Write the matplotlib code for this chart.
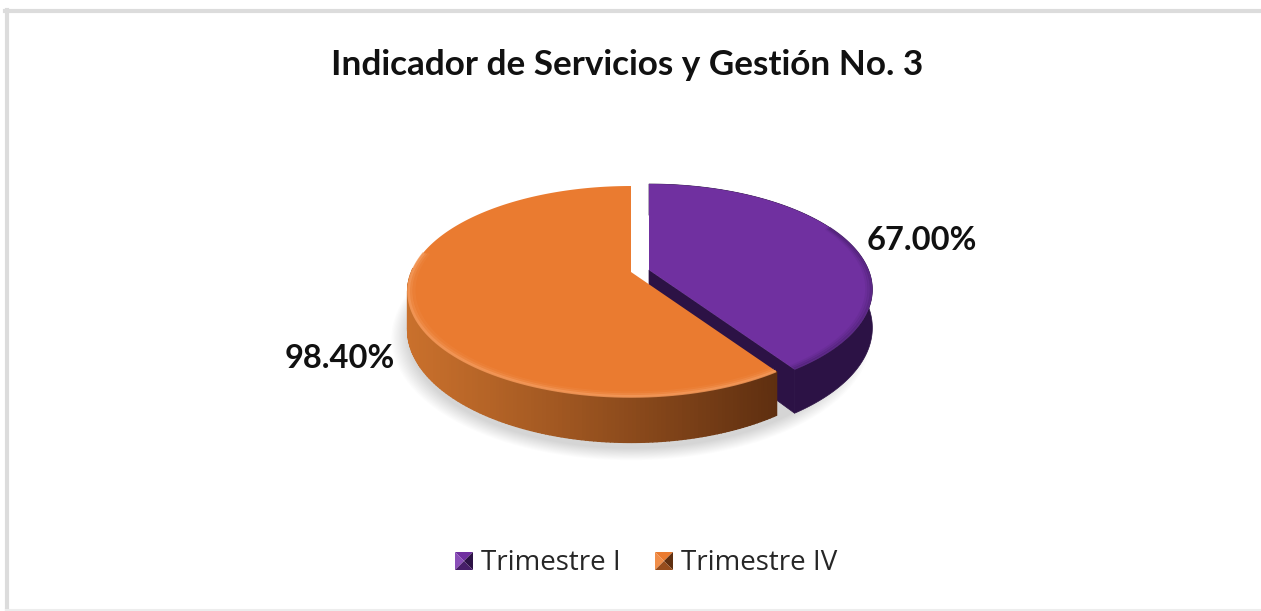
import numpy as np
import matplotlib
matplotlib.use('Agg')
import matplotlib.pyplot as plt
from matplotlib.colors import to_rgb

title = 'Indicador de Servicios y Gestión No. 3'
categories = ['Trimestre I', 'Trimestre IV']
values = [67.00, 98.40]
top_colors = ['#7030A0', '#EA7B30']

# fake 3d pie, unit disc seen in perspective
cx, cy = 631, 272
B, A, k = 219.5, 101.9, 0.185
D = 37
shift_x, shift_y = 18, -2  # exploded slice


def proj(u, v, down=0):
    w = 1 + k * v
    return cx + B * u / w, cy - A * v / w + down / w


def mix(a, b, t):
    a, b = np.array(to_rgb(a)), np.array(to_rgb(b))
    return tuple(a + (b - a) * t)


fig = plt.figure(figsize=(12.61, 6.11), dpi=100)
ax = fig.add_axes([0, 0, 1, 1])
ax.set_xlim(0, 1261)
ax.set_ylim(611, 0)
ax.axis('off')
ax.plot([6.5, 6.5], [10, 611], color='#DCDCDC', lw=3)
ax.plot([5, 1261], [10.5, 10.5], color='#DCDCDC', lw=3)
ax.plot([6, 1261], [610, 610], color='#EDEDED', lw=1.5)

total = sum(values)
sweep = values[0] / total * 2 * np.pi
t1 = np.linspace(0, sweep, 160)
t2 = np.linspace(sweep, 2 * np.pi, 240)

# soft shadow below the pie, near side only
tt = np.linspace(np.pi * 0.42, np.pi * 1.58, 200)
for g in np.linspace(1.07, 1.0, 14):
    sx, sy = proj(np.sin(tt) * g, np.cos(tt) * g, D + 5)
    ax.fill(sx, sy, color='black', alpha=0.011, lw=0)

# Trimestre I: wall, cut face, top
u1, v1 = np.sin(t1), np.cos(t1)
x, y = proj(u1, v1)
xb, yb = proj(u1, v1, D)
x, xb = x + shift_x, xb + shift_x
y, yb = y + shift_y, yb + shift_y
ax.fill(np.r_[x, xb[::-1]], np.r_[y, yb[::-1]], color='#2C1245', lw=0.5)
tipx, tipy = proj(0, 0)
tipbx, tipby = proj(0, 0, D)
tipx, tipbx = tipx + shift_x, tipbx + shift_x
tipy, tipby = tipy + shift_y, tipby + shift_y
ax.fill([tipx, x[-1], xb[-1], tipbx], [tipy, y[-1], yb[-1], tipby], color='#2C1245', lw=0.5)
ax.fill(np.r_[tipx, x], np.r_[tipy, y], color=top_colors[0], lw=0)
# darker soft edge on the near arc
near = v1 < 0.45
for g, a in zip([0.995, 0.985, 0.975], [0.5, 0.3, 0.15]):
    px, py = proj(u1[near] * g, v1[near] * g)
    ax.plot(px + shift_x, py + shift_y, color='#4A2070', lw=2, alpha=a, solid_capstyle='butt')

# Trimestre IV: wall with shading from left to right
u2, v2 = np.sin(t2), np.cos(t2)
vis = np.where(v2 < 0.05)[0]
x, y = proj(u2, v2)
xb, yb = proj(u2, v2, D)
xmin, xmax = x.min(), x[0]
for i in vis[:-1]:
    if x[i] > xmax + 1:
        continue
    f = np.clip((x[i] - xmin) / (xmax - xmin), 0, 1)
    col = mix('#C9702C', '#5F2F10', f ** 1.1)
    ax.fill([x[i], x[i + 1], xb[i + 1], xb[i]], [y[i], y[i + 1], yb[i + 1], yb[i]], color=col, lw=1, ec=col)
ax.fill(np.r_[cx, x], np.r_[cy, y], color=top_colors[1], lw=0)
# light bevel on the near arc
near = v2 < 0.2
for g, a in zip([0.996, 0.985, 0.972], [0.8, 0.4, 0.15]):
    px, py = proj(u2[near] * g, v2[near] * g)
    ax.plot(px, py, color='#F39A5C', lw=2, alpha=a, solid_capstyle='butt')

ax.text(627, 65, title, ha='center', va='center', fontsize=25.3, fontweight='bold', family='Lato', color='#111111')

# data labels
ax.text(922, 240, f'{values[0]:.2f}%', ha='center', va='center', fontsize=23.5, fontweight='bold', family='Lato', color='#111111')
ax.text(339.5, 358, f'{values[1]:.2f}%', ha='center', va='center', fontsize=23.5, fontweight='bold', family='Lato', color='#111111')

# legend, small pyramid keys
keys = [(455, 481), (655, 681)]
darks = ['#2C1245', '#5F2F10']
lights = ['#8A4FB8', '#F08E4A']
for (kx, tx), name, c, d, l in zip(keys, categories, top_colors, darks, lights):
    s = 18
    y0 = 552
    mx, my = kx + s / 2, y0 + s / 2
    ax.fill([kx, kx + s, mx], [y0, y0, my], color=c, lw=0)
    ax.fill([kx, kx, mx], [y0, y0 + s, my], color=l, lw=0)
    ax.fill([kx + s, kx + s, mx], [y0, y0 + s, my], color=d, lw=0)
    ax.fill([kx, kx + s, mx], [y0 + s, y0 + s, my], color=mix(c, d, 0.6), lw=0)
    ax.text(tx, 563, name, ha='left', va='center', fontsize=20, family='Open Sans', color='#262626')

fig.savefig('out.png', dpi=100)
